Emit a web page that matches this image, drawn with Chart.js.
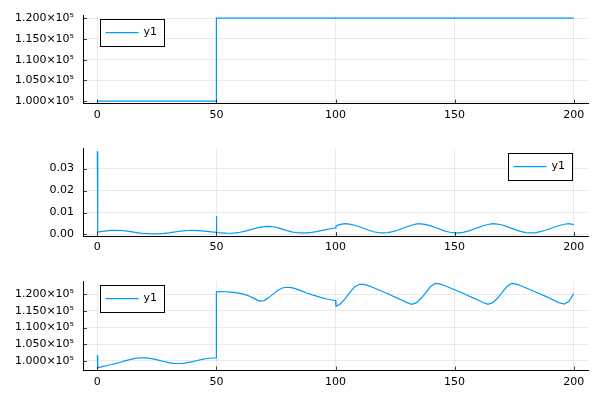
<!DOCTYPE html>
<html>
<head>
<meta charset="utf-8">
<script src="https://cdn.jsdelivr.net/npm/chart.js@4.4.1/dist/chart.umd.min.js"></script>
<style>
  html, body { margin: 0; padding: 0; background: #fff; }
  #wrap { position: relative; width: 600px; height: 400px; }
  canvas { position: absolute; left: 0; }
</style>
</head>
<body>
<div id="wrap">
  <canvas id="c1" width="600" height="133" style="top:0px"></canvas>
  <canvas id="c2" width="600" height="133" style="top:133px"></canvas>
  <canvas id="c3" width="600" height="134" style="top:266px"></canvas>
</div>
<script>
// ---- data ----
const seriesLabel = 'y1';
const xTicks = [0, 50, 100, 150, 200];

// top panel: step
const x1 = [0, 50, 50, 200];
const y1 = [100000, 100000, 120000, 120000];

// middle panel
const x2 = [0, 0.2, 2, 4, 6, 8, 10, 12, 14, 16, 18, 20, 22, 24, 26, 28, 30, 32, 34, 36, 38, 40, 42, 44, 46, 48,
  50, 50, 50.2, 52, 54, 56, 58, 60, 62, 64, 66, 68, 70, 72, 74, 76, 78, 80, 82, 84, 86, 88, 90, 92, 94, 96, 98,
  100, 100.2, 102, 104, 106, 108, 110, 112, 114, 116, 118, 120, 122, 124, 126, 128, 130, 132, 134, 136, 138,
  140, 142, 144, 146, 148, 150, 152, 154, 156, 158, 160, 162, 164, 166, 168, 170, 172, 174, 176, 178, 180,
  182, 184, 186, 188, 190, 192, 194, 196, 198, 200];
const y2 = [0.0379, 0.0011, 0.0014, 0.00165, 0.00185, 0.0019, 0.0018, 0.0016, 0.0013, 0.00095, 0.00065, 0.00045,
  0.00035, 0.0003, 0.00035, 0.0005, 0.00075, 0.00105, 0.00135, 0.0016, 0.0018, 0.00185, 0.00175, 0.0016, 0.0014, 0.00115,
  0.00095, 0.0084, 0.0009, 0.00075, 0.0006, 0.00055, 0.0007, 0.001, 0.0015, 0.0021, 0.0027, 0.0032, 0.0036, 0.0037,
  0.0035, 0.003, 0.0023, 0.0016, 0.0011, 0.0008, 0.0007, 0.00075, 0.00095, 0.0013, 0.00175, 0.0022, 0.0026,
  0.003, 0.0039, 0.0046, 0.0049, 0.0047, 0.0042, 0.0035, 0.0027, 0.0019, 0.00125, 0.0008, 0.0007, 0.00085, 0.0013,
  0.0019, 0.0027, 0.0035, 0.0042, 0.0048, 0.00485, 0.0045, 0.0039, 0.00315, 0.0023, 0.00155, 0.001, 0.0007,
  0.00075, 0.0011, 0.00165, 0.0024, 0.0032, 0.00395, 0.00455, 0.0049, 0.00475, 0.0043, 0.0036, 0.0028, 0.002,
  0.0013, 0.00085, 0.0007, 0.00085, 0.0013, 0.0019, 0.0026, 0.0034, 0.0041, 0.00465, 0.0049, 0.0045];

// bottom panel
const x3 = [0, 0.2, 2, 4, 6, 8, 10, 12, 14, 16, 18, 20, 22, 24, 26, 28, 30, 32, 34, 36, 38, 40, 42, 44, 46, 48,
  50, 50, 52, 54, 56, 58, 60, 62, 64, 66, 68, 70, 72, 74, 76, 78, 80, 82, 84, 86, 88, 90, 92, 94, 96, 98,
  100, 100.2, 102, 104, 106, 108, 110, 112, 114, 116, 118, 120, 122, 124, 126, 128, 130, 132, 134, 136, 138,
  140, 142, 144, 146, 148, 150, 152, 154, 156, 158, 160, 162, 164, 166, 168, 170, 172, 174, 176, 178, 180,
  182, 184, 186, 188, 190, 192, 194, 196, 198, 200];
const y3 = [101700, 97900, 98300, 98650, 98950, 99300, 99700, 100100, 100500, 100800, 100970, 100950, 100800,
  100550, 100200, 99850, 99500, 99300, 99250, 99300, 99500, 99800, 100150, 100500, 100750, 100900,
  100950, 120700, 120780, 120750, 120650, 120500, 120250, 119900, 119400, 118700, 117950, 118100, 119000,
  120200, 121300, 121950, 122100, 121900, 121450, 120950, 120400, 119900, 119450, 119000, 118650, 118350,
  118100, 116400, 117100, 118600, 120500, 122200, 123000, 122950, 122500, 121950, 121350, 120750, 120150,
  119500, 118850, 118200, 117500, 116970, 117500, 118800, 120600, 122400, 123250, 123050, 122550, 121950,
  121350, 120750, 120150, 119500, 118850, 118200, 117550, 117000, 117500, 118800, 120600, 122400, 123250,
  123050, 122500, 121900, 121300, 120700, 120100, 119450, 118800, 118100, 117400, 117050, 117900, 120200];

const sciTicks = [100000, 105000, 110000, 115000, 120000];
const sciLabels = ['1.000×10⁵', '1.050×10⁵', '1.100×10⁵', '1.150×10⁵', '1.200×10⁵'];
const smallTicks = [0, 0.01, 0.02, 0.03];
const smallLabels = ['0.00', '0.01', '0.02', '0.03'];

const lineColor = 'rgb(0, 154, 250)';
const gridColor = 'rgba(0, 0, 0, 0.08)';
const font = { family: 'DejaVu Sans', size: 11 };

// framed legend drawn inside the plot area, GR style
const boxLegend = {
  id: 'boxLegend',
  afterDraw(chart, args, opts) {
    const ctx = chart.ctx;
    const area = chart.chartArea;
    const w = 64, h = 27;
    const bx = opts.side === 'right' ? area.right - opts.dx - w : area.left + opts.dx;
    const by = area.top + opts.dy;
    ctx.save();
    ctx.fillStyle = '#fff';
    ctx.fillRect(bx, by, w, h);
    ctx.strokeStyle = '#000';
    ctx.lineWidth = 1;
    ctx.strokeRect(Math.round(bx) + 0.5, Math.round(by) + 0.5, w, h);
    const ds = chart.data.datasets[0];
    const cy = by + h / 2 + 0.5;
    ctx.strokeStyle = ds.borderColor;
    ctx.lineWidth = 1.2;
    ctx.beginPath();
    ctx.moveTo(bx + 6, cy);
    ctx.lineTo(bx + 39, cy);
    ctx.stroke();
    ctx.fillStyle = '#000';
    ctx.font = '11px "DejaVu Sans"';
    ctx.textBaseline = 'middle';
    ctx.fillText(ds.label, bx + 44, cy);
    ctx.restore();
  }
};

// short inward tick marks on both axes
const innerTicks = {
  id: 'innerTicks',
  afterDraw(chart) {
    const ctx = chart.ctx;
    const area = chart.chartArea;
    const xs = chart.scales.x, ys = chart.scales.y;
    ctx.save();
    ctx.strokeStyle = 'rgba(0,0,0,0.75)';
    ctx.lineWidth = 1;
    ctx.beginPath();
    xs.ticks.forEach(t => {
      const px = Math.round(xs.getPixelForValue(t.value)) + 0.5;
      ctx.moveTo(px, area.bottom);
      ctx.lineTo(px, area.bottom - 4);
    });
    ys.ticks.forEach(t => {
      const py = Math.round(ys.getPixelForValue(t.value)) + 0.5;
      ctx.moveTo(area.left, py);
      ctx.lineTo(area.left + 4, py);
    });
    ctx.stroke();
    ctx.restore();
  }
};

function makePanel(id, xs, ys, cfg) {
  const points = xs.map((x, i) => ({ x: x, y: ys[i] }));
  return new Chart(document.getElementById(id), {
    type: 'line',
    data: {
      datasets: [{
        label: seriesLabel,
        data: points,
        borderColor: lineColor,
        borderWidth: 1.2,
        pointRadius: 0,
        tension: 0,
        fill: false
      }]
    },
    options: {
      responsive: false,
      animation: false,
      parsing: false,
      layout: { padding: { top: cfg.top, right: 12, left: 0, bottom: 0 } },
      plugins: {
        legend: { display: false },
        tooltip: { enabled: false },
        boxLegend: cfg.legend
      },
      scales: {
        x: {
          type: 'linear',
          min: -6,
          max: 206,
          afterBuildTicks: s => { s.ticks = xTicks.map(v => ({ value: v })); },
          afterFit: s => { s.height = cfg.xh; },
          ticks: { font: font, color: '#000', padding: 5, maxRotation: 0, autoSkip: false,
                   callback: v => String(v) },
          grid: { color: gridColor, drawTicks: false },
          border: { color: '#000', width: 1 }
        },
        y: {
          type: 'linear',
          min: cfg.ymin,
          max: cfg.ymax,
          afterBuildTicks: s => { s.ticks = cfg.yTicks.map(v => ({ value: v })); },
          afterFit: s => { s.width = 83; },
          ticks: { font: font, color: '#000', padding: 9, autoSkip: false,
                   callback: (v, i) => cfg.yLabels[i] },
          grid: { color: gridColor, drawTicks: false },
          border: { color: '#000', width: 1 }
        }
      }
    },
    plugins: [innerTicks, boxLegend]
  });
}

makePanel('c1', x1, y1, {
  top: 11.5, xh: 29.5, ymin: 99450, ymax: 120600,
  yTicks: sciTicks, yLabels: sciLabels,
  legend: { side: 'left', dx: 16.5, dy: 3 }
});
makePanel('c2', x2, y2, {
  top: 11, xh: 30, ymin: -0.0007, ymax: 0.0391,
  yTicks: smallTicks, yLabels: smallLabels,
  legend: { side: 'right', dx: 16.5, dy: 4 }
});
makePanel('c3', x3, y3, {
  top: 11.5, xh: 29.5, ymin: 97150, ymax: 123800,
  yTicks: sciTicks, yLabels: sciLabels,
  legend: { side: 'left', dx: 16.5, dy: 3 }
});
</script>
</body>
</html>
